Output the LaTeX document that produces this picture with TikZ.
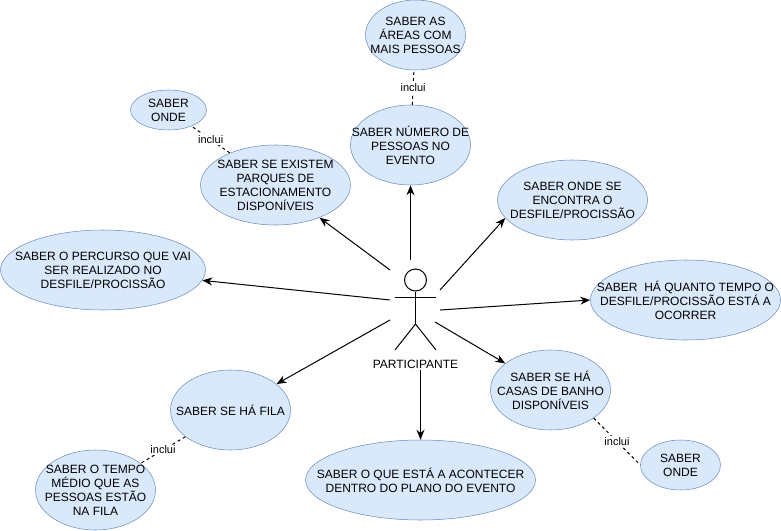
\documentclass[tikz,border=0pt]{standalone}
\usepackage{fontspec}
\setmainfont{Liberation Sans}
\usetikzlibrary{shapes.geometric,arrows.meta}
\definecolor{ucfill}{HTML}{DAE8FC}
\definecolor{ucline}{HTML}{6C8EBF}
\tikzset{
  casetext/.style={inner sep=0pt, yshift=-0.6pt, align=center, font=\fontsize{9}{10.5}\selectfont},
  usecase/.style={ellipse, draw=ucline, fill=ucfill, inner sep=0pt},
  assoc/.style={-{Stealth[length=7.5pt,width=6pt]}, line width=0.75pt},
  incl/.style={dash pattern=on 2.25pt off 2.25pt, line width=0.75pt},
  incllabel/.style={fill=white, inner sep=1pt, font=\fontsize{8.25}{9}\selectfont},
  stick/.style={line width=0.75pt}
}
\begin{document}
\begin{tikzpicture}[x=0.75pt,y=-0.75pt]
    \useasboundingbox (0,0) rectangle (781,531);

    % Use cases
    \node[usecase, minimum width=75pt, minimum height=52.5pt, label={[casetext]center:{SABER AS\\ÁREAS COM\\MAIS PESSOAS}}] (areas) at (415.5,35) {};
    \node[usecase, minimum width=90pt, minimum height=60pt, label={[casetext]center:{SABER NÚMERO DE\\PESSOAS NO\\EVENTO}}] (numero) at (410.5,145) {};
    \node[usecase, minimum width=57pt, minimum height=30pt, label={[casetext]center:{SABER\\ONDE}}] (ondea) at (168.5,110) {};
    \node[usecase, minimum width=112.5pt, minimum height=60pt, label={[casetext]center:{SABER SE EXISTEM\\PARQUES DE\\ESTACIONAMENTO\\DISPONÍVEIS}}] (parques) at (275.5,185) {};
    \node[usecase, minimum width=153.75pt, minimum height=60pt, label={[casetext]center:{SABER O PERCURSO QUE VAI\\SER REALIZADO NO\\DESFILE/PROCISSÃO}}] (percurso) at (103,270) {};
    \node[usecase, minimum width=112.5pt, minimum height=60pt, label={[casetext]center:{SABER ONDE SE\\ENCONTRA O\\DESFILE/PROCISSÃO}}] (encontra) at (572.5,200) {};
    \node[usecase, minimum width=142.5pt, minimum height=60pt, label={[casetext]center:{SABER~~HÁ QUANTO TEMPO O\\DESFILE/PROCISSÃO ESTÁ A\\OCORRER}}] (quanto) at (685.5,300) {};
    \node[usecase, minimum width=90pt, minimum height=60pt, label={[casetext]center:{SABER SE HÁ\\CASAS DE BANHO\\DISPONÍVEIS}}] (casas) at (550.5,390) {};
    \node[usecase, minimum width=60pt, minimum height=37.5pt, label={[casetext]center:{SABER\\ONDE}}] (ondeb) at (680.5,465) {};
    \node[usecase, minimum width=90pt, minimum height=60pt, label={[casetext]center:{SABER SE HÁ FILA}}] (fila) at (230.5,410) {};
    \node[usecase, minimum width=90pt, minimum height=60pt, label={[casetext]center:{SABER O TEMPO\\MÉDIO QUE AS\\PESSOAS ESTÃO\\NA FILA}}] (tempo) at (95.5,490) {};
    \node[usecase, minimum width=172.5pt, minimum height=60pt, label={[casetext]center:{SABER O QUE ESTÁ A ACONTECER\\DENTRO DO PLANO DO EVENTO}}] (acontece) at (420.5,480) {};

    % Actor
    \node[circle, draw, stick, fill=white, minimum size=16.5pt, inner sep=0pt] (head) at (415.5,280) {};
    \coordinate (hip) at (415.5,324);
    \coordinate (handl) at (395,297);
    \coordinate (handr) at (436,297);
    \coordinate (footl) at (395,350);
    \coordinate (footr) at (436,350);
    \draw[stick] (head) -- (hip);
    \draw[stick] (handl) -- (handr);
    \draw[stick] (footl) -- (hip) -- (footr);
    \node[font=\fontsize{9}{10.5}\selectfont, inner sep=0pt] (actor) at (415.5,364) {PARTICIPANTE};

    % Associations
    \coordinate (fromn) at (410.5,260);
    \coordinate (fromnw) at (390,270);
    \coordinate (fromw) at (390,300);
    \coordinate (fromsw) at (390,320);
    \coordinate (froms) at (420.5,370);
    \coordinate (fromse) at (435,322);
    \coordinate (frome) at (440,310);
    \coordinate (fromne) at (440,290);
    \draw[assoc] (fromn) -- (numero);
    \draw[assoc] (fromnw) -- (parques);
    \draw[assoc] (fromw) -- (percurso);
    \draw[assoc] (fromsw) -- (fila);
    \draw[assoc] (froms) -- (acontece);
    \draw[assoc] (fromse) -- (casas);
    \draw[assoc] (frome) -- (quanto.west);
    \draw[assoc] (fromne) -- (encontra.195);

    % Includes
    \draw[incl] (numero) -- node[incllabel] (inca) {inclui} (areas);
    \draw[incl] (parques) -- node[incllabel] (incb) {inclui} (ondea);
    \draw[incl] (fila) -- node[incllabel] (incc) {inclui} (tempo);
    \draw[incl] (casas.-33) -- node[incllabel] (incd) {inclui} (ondeb.west);
\end{tikzpicture}
\end{document}
